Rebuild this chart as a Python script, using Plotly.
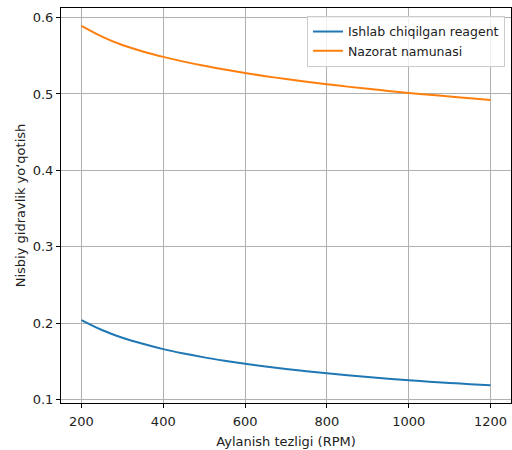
import plotly.graph_objects as go

rpm = [200, 250, 300, 350, 400, 450, 500, 550, 600, 650, 700, 750, 800, 850, 900, 950, 1000, 1050, 1100, 1150, 1200]
reagent = [0.2040, 0.1910, 0.1810, 0.1730, 0.1660, 0.1602, 0.1552, 0.1508, 0.1468, 0.1432, 0.1400,
           0.1370, 0.1343, 0.1318, 0.1295, 0.1273, 0.1253, 0.1234, 0.1217, 0.1202, 0.1187]
control = [0.5890, 0.5750, 0.5640, 0.5556, 0.5485, 0.5423, 0.5368, 0.5319, 0.5274, 0.5233, 0.5195,
           0.5160, 0.5127, 0.5096, 0.5067, 0.5040, 0.5014, 0.4990, 0.4966, 0.4944, 0.4922]
x_ticks = [200, 400, 600, 800, 1000, 1200]
y_ticks = [0.1, 0.2, 0.3, 0.4, 0.5, 0.6]

FONT = "DejaVu Sans"

fig = go.Figure()
fig.add_trace(go.Scatter(x=rpm, y=reagent, mode="lines", name="Ishlab chiqilgan reagent",
                         line=dict(color="#1f77b4", width=2, shape="spline", smoothing=1)))
fig.add_trace(go.Scatter(x=rpm, y=control, mode="lines", name="Nazorat namunasi",
                         line=dict(color="#ff7f0e", width=2, shape="spline", smoothing=1)))

axis_common = dict(showline=True, linecolor="black", linewidth=1, mirror=True,
                   ticks="outside", ticklen=4, tickcolor="black", tickwidth=1,
                   showgrid=True, gridcolor="#b0b0b0", gridwidth=0.8, zeroline=False,
                   tickfont=dict(family=FONT, size=13, color="#222"))

fig.update_xaxes(range=[150, 1250], tickvals=x_ticks, ticklabelstandoff=2,
                 title=dict(text="Aylanish tezligi (RPM)", font=dict(family=FONT, size=13, color="#222"), standoff=9),
                 **axis_common)
fig.update_yaxes(range=[0.0955, 0.6125], tickvals=y_ticks, tickformat=".1f",
                 title=dict(text="Nisbiy gidravlik yoʻqotish", font=dict(family=FONT, size=13, color="#222"), standoff=4),
                 **axis_common)

fig.update_layout(
    width=512, height=450,
    margin=dict(l=61, r=1, t=8, b=47),
    paper_bgcolor="white", plot_bgcolor="white",
    font=dict(family=FONT, size=13, color="#222"),
    legend=dict(x=0.9867, y=0.98, xanchor="right", yanchor="top",
                bgcolor="rgba(255,255,255,0.8)", bordercolor="#cccccc", borderwidth=1,
                font=dict(family=FONT, size=12.5, color="#222"), itemwidth=30),
)

fig.write_html("out.html", config={"displayModeBar": False},
               post_script="document.body.style.margin='0';document.body.style.overflow='hidden';")
